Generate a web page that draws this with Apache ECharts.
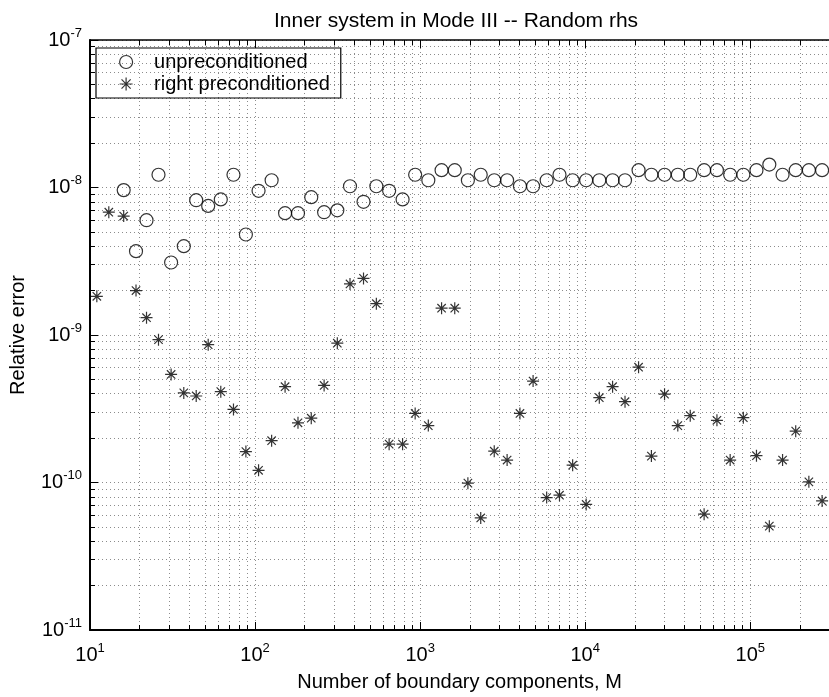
<!DOCTYPE html>
<html>
<head>
<meta charset="utf-8">
<script src="https://cdn.jsdelivr.net/npm/echarts@6/dist/echarts.min.js"></script>
<style>html,body{margin:0;padding:0;background:#fff}#c{width:829px;height:697px}</style>
</head>
<body>
<div id="c"></div>
<script>
// Number of boundary components M (x values)
const M = [11,13,16,19,22,26,31,37,44,52,62,74,88,105,126,152,182,219,262,315,376,454,543,649,783,933,1121,1349,1621,1947,2329,2812,3365,4025,4835,5843,6988,8395,10139,12178,14655,17430,21056,25189,30259,36397,43295,52540,62834,75558,90818,109071,130499,156965,188581,226540,272450];
// unpreconditioned relative error
const unprecond = [null,null,9.6e-9,3.7e-9,6.0e-9,1.22e-8,3.1e-9,4.0e-9,8.2e-9,7.5e-9,
  8.3e-9,1.22e-8,4.8e-9,9.5e-9,1.12e-8,6.7e-9,6.7e-9,8.6e-9,6.8e-9,7.0e-9,
  1.02e-8,8.0e-9,1.02e-8,9.5e-9,8.3e-9,1.22e-8,1.12e-8,1.31e-8,1.31e-8,1.12e-8,
  1.22e-8,1.12e-8,1.12e-8,1.02e-8,1.02e-8,1.12e-8,1.22e-8,1.12e-8,1.12e-8,1.12e-8,
  1.12e-8,1.12e-8,1.31e-8,1.22e-8,1.22e-8,1.22e-8,1.22e-8,1.31e-8,1.31e-8,1.22e-8,
  1.22e-8,1.31e-8,1.43e-8,1.22e-8,1.31e-8,1.31e-8,1.31e-8];
// right preconditioned relative error
const rightPrecond = [1.83e-9,6.8e-9,6.4e-9,2.0e-9,1.31e-9,9.3e-10,5.4e-10,4.05e-10,3.86e-10,8.6e-10,
  4.13e-10,3.13e-10,1.62e-10,1.21e-10,1.92e-10,4.46e-10,2.54e-10,2.73e-10,4.55e-10,8.8e-10,
  2.22e-9,2.42e-9,1.63e-9,1.82e-10,1.82e-10,2.94e-10,2.43e-10,1.52e-9,1.52e-9,9.9e-11,
  5.75e-11,1.63e-10,1.42e-10,2.94e-10,4.87e-10,7.9e-11,8.2e-11,1.31e-10,7.1e-11,3.76e-10,
  4.46e-10,3.53e-10,6.05e-10,1.51e-10,3.97e-10,2.43e-10,2.84e-10,6.1e-11,2.64e-10,1.42e-10,
  2.75e-10,1.52e-10,5.06e-11,1.42e-10,2.23e-10,1.01e-10,7.5e-11];
// axis ranges and tick decades
const xRange = [10, 3e5];
const yRange = [1e-11, 1e-7];
const xDecades = [10, 100, 1000, 10000, 100000];
const yDecades = [1e-11, 1e-10, 1e-9, 1e-8];
const minorMult = [2,3,4,5,6,7,8,9];

const FONT = 'Liberation Sans, Arial, Helvetica, sans-serif';
const xMinor = [];
xDecades.forEach(d => minorMult.forEach(m => { const v = m*d; if (v < xRange[1]) xMinor.push(v); }));
const yMinor = [];
yDecades.forEach(d => minorMult.forEach(m => { yMinor.push(m*d); }));

function powLabel(v) {
  const e = Math.round(Math.log10(v));
  if (Math.abs(Math.log10(v) - e) > 1e-6) return '';
  return '{b|10}{s|' + e + '}';
}
const richLab = {
  b: {fontSize: 20, fontFamily: FONT, color: '#000'},
  s: {fontSize: 13, fontFamily: FONT, color: '#000', padding: [0, 0, 14, 0]}
};
const dotted = {type: [1, 3], color: '#000', width: 1, opacity: 0.45};

const chart = echarts.init(document.getElementById('c'), null, {renderer: 'canvas'});
const pts = (ys) => M.map((x, i) => ys[i] == null ? null : [x, ys[i]]).filter(p => p);
const starPath = 'path://M0,-6L0,6M-6,0L6,0M-4.2,-4.2L4.2,4.2M-4.2,4.2L4.2,-4.2';

const vLines = xMinor.map(v => [{coord: [v, yRange[0]]}, {coord: [v, yRange[1]]}]);
const hLines = yMinor.map(v => [{coord: [xRange[0], v]}, {coord: [xRange[1], v]}]);

const minorAxis = (range, vals, pos) => ({
  type: 'log', logBase: 10, min: range[0], max: range[1], position: pos,
  axisLine: {show: false},
  axisTick: {show: true, inside: true, length: 5, customValues: vals, lineStyle: {color: '#000', width: 1}},
  axisLabel: {show: false}, splitLine: {show: false}
});

chart.setOption({
  animation: false,
  backgroundColor: '#fff',
  title: {
    text: 'Inner system in Mode III -- Random rhs',
    left: 451, top: 6, textAlign: 'center',
    textStyle: {fontSize: 21, fontWeight: 'normal', fontFamily: FONT, color: '#000'}
  },
  grid: {left: 88, top: 40, width: 749, bottom: 65},
  legend: {
    orient: 'vertical', left: 96, top: 48,
    padding: [4, 11, 4, 23],
    itemWidth: 46, itemHeight: 13, itemGap: 2,
    borderColor: '#000', borderWidth: 1.2, backgroundColor: '#fff',
    textStyle: {fontSize: 20, fontFamily: FONT, color: '#000'},
    data: [
      {name: 'unpreconditioned', icon: 'circle', itemStyle: {color: 'transparent', borderColor: '#000', borderWidth: 1.2}},
      {name: 'right preconditioned', icon: starPath, itemStyle: {color: '#000', borderColor: '#000', borderWidth: 1.2}}
    ]
  },
  xAxis: [{
    type: 'log', logBase: 10, min: xRange[0], max: xRange[1],
    name: 'Number of boundary components, M', nameLocation: 'middle', nameGap: 42,
    nameTextStyle: {fontSize: 20, fontFamily: FONT, color: '#000'},
    axisLine: {show: true, lineStyle: {color: '#000', width: 2}},
    axisTick: {show: true, inside: true, length: 8, lineStyle: {color: '#000', width: 1}},
    axisLabel: {formatter: powLabel, rich: richLab, margin: 12, showMaxLabel: false},
    splitLine: {show: true, lineStyle: dotted}
  }, {
    type: 'log', logBase: 10, min: xRange[0], max: xRange[1], position: 'top',
    axisLine: {show: true, lineStyle: {color: '#000', width: 1.5}},
    axisTick: {show: true, inside: true, length: 8, lineStyle: {color: '#000', width: 1}},
    axisLabel: {show: false}, splitLine: {show: false}
  },
  minorAxis(xRange, xMinor, 'bottom'),
  minorAxis(xRange, xMinor, 'top')],
  yAxis: [{
    type: 'log', logBase: 10, min: yRange[0], max: yRange[1],
    name: 'Relative error', nameLocation: 'middle', nameGap: 62,
    nameTextStyle: {fontSize: 20, fontFamily: FONT, color: '#000'},
    axisLine: {show: true, lineStyle: {color: '#000', width: 2}},
    axisTick: {show: true, inside: true, length: 8, lineStyle: {color: '#000', width: 1}},
    axisLabel: {formatter: powLabel, rich: richLab, margin: 8},
    splitLine: {show: true, lineStyle: dotted}
  },
  minorAxis(yRange, yMinor, 'left')],
  series: [{
    name: 'vgrid', type: 'scatter', data: [], silent: true,
    markLine: {
      silent: true, symbol: 'none', animation: false,
      label: {show: false}, lineStyle: dotted, data: vLines
    }
  }, {
    name: 'hgrid', type: 'scatter', data: [], silent: true,
    markLine: {
      silent: true, symbol: 'none', animation: false,
      label: {show: false}, lineStyle: dotted, data: hLines
    }
  }, {
    name: 'unpreconditioned', type: 'scatter', data: pts(unprecond),
    symbol: 'circle', symbolSize: 13, z: 5,
    itemStyle: {color: 'transparent', borderColor: '#000', borderWidth: 1.2}
  }, {
    name: 'right preconditioned', type: 'scatter', data: pts(rightPrecond),
    symbol: starPath, symbolSize: 12, z: 5,
    itemStyle: {color: '#000', borderColor: '#000', borderWidth: 1.2}
  }]
});
</script>
</body>
</html>
